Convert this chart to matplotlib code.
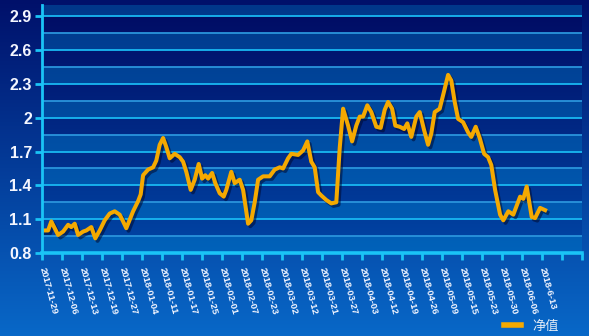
import numpy as np
import matplotlib
matplotlib.use('Agg')
import matplotlib.pyplot as plt
import matplotlib.patheffects as pe
from matplotlib.colors import to_rgb
from matplotlib.lines import Line2D

# ---- data ----
tick_labels = ['2017-11-29', '2017-12-06', '2017-12-13', '2017-12-19', '2017-12-27',
               '2018-01-04', '2018-01-11', '2018-01-17', '2018-01-25', '2018-02-01',
               '2018-02-07', '2018-02-23', '2018-03-02', '2018-03-12', '2018-03-21',
               '2018-03-27', '2018-04-03', '2018-04-12', '2018-04-19', '2018-04-26',
               '2018-05-09', '2018-05-15', '2018-05-23', '2018-05-30', '2018-06-06',
               '2018-6-13']
n_slots = 27  # category slots on the x axis (ticks 0..27)

# position along the date axis (in label steps) and net value
pos = [0.00, 0.32, 0.48, 0.82, 1.07, 1.32, 1.48, 1.65, 1.82, 2.07, 2.23, 2.48, 2.68,
       2.90, 3.15, 3.40, 3.65, 3.90, 4.07, 4.23, 4.57, 4.82, 4.95, 5.07, 5.32, 5.57,
       5.73, 5.90, 6.07, 6.23, 6.40, 6.65, 6.90, 7.07, 7.23, 7.45, 7.65, 7.85, 8.02,
       8.18, 8.32, 8.52, 8.68, 8.90, 9.10, 9.23, 9.48, 9.65, 9.90, 10.07, 10.32, 10.48,
       10.65, 10.82, 11.07, 11.40, 11.65, 11.90, 12.07, 12.32, 12.48, 12.82, 13.07,
       13.28, 13.48, 13.65, 13.82, 13.98, 14.23, 14.48, 14.73, 14.90, 15.07, 15.32,
       15.52, 15.73, 15.90, 16.07, 16.28, 16.48, 16.73, 16.95, 17.15, 17.32, 17.52,
       17.68, 17.90, 18.12, 18.28, 18.48, 18.73, 18.90, 19.12, 19.32, 19.48, 19.65,
       19.90, 20.07, 20.32, 20.48, 20.65, 20.82, 21.07, 21.32, 21.48, 21.70, 21.90,
       22.12, 22.32, 22.48, 22.67, 22.92, 23.08, 23.33, 23.58, 23.92, 24.08, 24.25,
       24.50, 24.67, 24.92, 25.17]
nav = [1.00, 1.00, 1.08, 0.96, 0.99, 1.05, 1.03, 1.06, 0.96, 0.99, 1.00, 1.03, 0.93,
       1.00, 1.09, 1.15, 1.17, 1.14, 1.08, 1.02, 1.17, 1.26, 1.32, 1.49, 1.54, 1.56,
       1.62, 1.76, 1.82, 1.74, 1.64, 1.68, 1.65, 1.61, 1.52, 1.36, 1.45, 1.59, 1.46,
       1.49, 1.46, 1.51, 1.42, 1.33, 1.30, 1.36, 1.52, 1.42, 1.45, 1.36, 1.06, 1.09,
       1.25, 1.45, 1.48, 1.48, 1.54, 1.56, 1.55, 1.64, 1.68, 1.67, 1.71,
       1.79, 1.61, 1.56, 1.34, 1.31, 1.27, 1.24, 1.25, 1.73, 2.08, 1.93,
       1.79, 1.93, 2.01, 2.01, 2.11, 2.05, 1.92, 1.91, 2.07, 2.14, 2.08,
       1.93, 1.92, 1.90, 1.95, 1.83, 2.01, 2.05, 1.89, 1.76, 1.86, 2.05,
       2.08, 2.20, 2.38, 2.33, 2.14, 1.99, 1.96, 1.87, 1.83, 1.92, 1.82,
       1.68, 1.65, 1.58, 1.36, 1.14, 1.09, 1.17, 1.14, 1.30, 1.28, 1.39,
       1.12, 1.11, 1.20, 1.18]
series_name = '净值'
y_ticks = [0.8, 1.1, 1.4, 1.7, 2.0, 2.3, 2.6, 2.9]
y_tick_labels = ['0.8', '1.1', '1.4', '1.7', '2', '2.3', '2.6', '2.9']
y_min, y_max, band = 0.8, 3.0, 0.15

W, H = 589, 336
fig = plt.figure(figsize=(W / 100, H / 100), dpi=100)

# figure background gradient
bg = fig.add_axes([0, 0, 1, 1], zorder=-10)
bg.axis('off')
top_c = np.array(to_rgb('#00106a'))
bot_c = np.array(to_rgb('#0868c8'))
t = np.linspace(0, 1, 300)[:, None]
img = top_c * (1 - t) + bot_c * t
bg.imshow(img[:, None, :], aspect='auto', extent=(0, 1, 0, 1))
bg.set_xlim(0, 1); bg.set_ylim(0, 1)

ax = fig.add_axes([41.7 / W, 83 / H, 540 / W, 248 / H])
ax.set_xlim(0, n_slots)
ax.set_ylim(y_min, y_max)

# banded gradient plot area
rows = 2200
v = np.linspace(y_min, y_max, rows)
frac = ((v - y_min) / (y_max - y_min))[:, None]
dark_top, dark_bot = np.array(to_rgb('#000a62')), np.array(to_rgb('#0046a6'))
light_top, light_bot = np.array(to_rgb('#00378a')), np.array(to_rgb('#0062ba'))
dark = dark_bot * (1 - frac) + dark_top * frac
light = light_bot * (1 - frac) + light_top * frac
k = np.floor((v - y_min) / band + 1e-9).astype(int)
is_light = (k % 2 == 0)[:, None]
band_img = np.where(is_light, light, dark)
ax.imshow(band_img[:, None, :], aspect='auto', origin='lower',
          extent=(0, n_slots, y_min, y_max), interpolation='nearest', zorder=0)

# gridlines
lvl = y_min + band
i = 1
while lvl < y_max - 1e-6:
    major = (i % 2 == 0)
    ax.axhline(lvl, color='#19b8f2' if major else '#2a94dc', lw=1.3, zorder=1)
    lvl += band
    i += 1

# series line
ax.plot(pos, nav, color='#f5a900', lw=2.9, zorder=3, solid_joinstyle='round',
        path_effects=[pe.SimpleLineShadow(offset=(1.6, -1.8), shadow_color='#000a30', alpha=0.55),
                      pe.Normal()])

# axes styling
cyan = '#1ac4f6'
for s in ['top', 'right']:
    ax.spines[s].set_visible(False)
ax.spines['left'].set_color(cyan)
ax.spines['left'].set_linewidth(2.0)
ax.spines['bottom'].set_color(cyan)
ax.spines['bottom'].set_linewidth(2.6)
ax.spines['left'].set_zorder(4)
ax.spines['bottom'].set_zorder(4)

ax.set_yticks(y_ticks)
ax.set_yticklabels(y_tick_labels, fontfamily='Liberation Sans', fontweight='bold',
                   fontsize=11.5, color='#f4f6ff')
ax.tick_params(axis='y', direction='out', length=5, width=2, color=cyan, pad=2)

ax.set_xticks(range(n_slots + 1))
ax.set_xticklabels(tick_labels + [''] * (n_slots + 1 - len(tick_labels)),
                   rotation=-75, ha='left', va='center', rotation_mode='anchor',
                   fontfamily='Liberation Sans', fontweight='bold', fontsize=6.8,
                   color='#f4f6ff')
ax.tick_params(axis='x', direction='out', length=5, width=2, color=cyan, pad=5)

# legend
handle = Line2D([], [], color='#f5a900', lw=4)
leg = fig.legend([handle], [series_name], loc='center left',
                 bbox_to_anchor=(497 / W, 10 / H), frameon=False,
                 handlelength=1.3, handletextpad=0.9, borderpad=0,
                 prop={'family': ['Noto Sans CJK SC', 'DejaVu Sans'], 'size': 9.5})
for txt in leg.get_texts():
    txt.set_color('#e4ecf6')

fig.savefig('out.png', dpi=100)
